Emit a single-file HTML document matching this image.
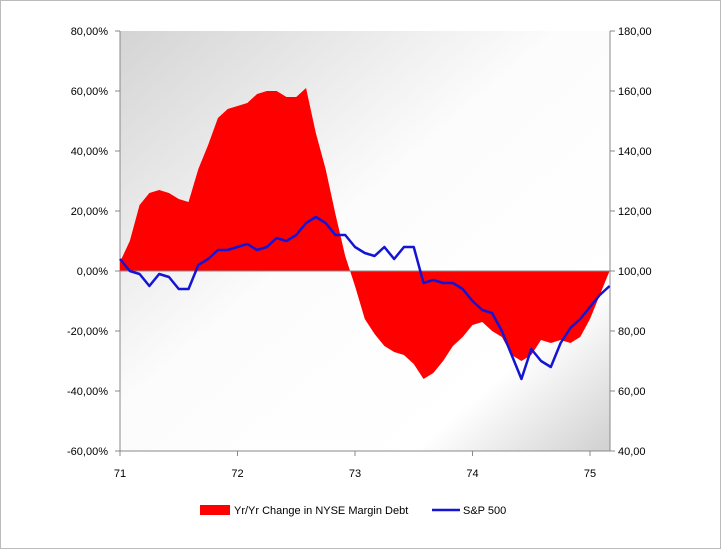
<!DOCTYPE html>
<html><head><meta charset="utf-8"><style>
body{margin:0;background:#fff;font-family:"Liberation Sans",sans-serif;}
svg text{font-family:"Liberation Sans",sans-serif;font-size:11px;fill:#000;}
</style></head><body>
<svg width="721" height="549">
<defs>
<linearGradient id="bg" x1="0" y1="0" x2="1" y2="1">
<stop offset="0" stop-color="#d4d4d4"/><stop offset="0.45" stop-color="#fcfcfc"/><stop offset="0.8" stop-color="#ffffff"/><stop offset="1" stop-color="#d0d0d0"/>
</linearGradient>
</defs>
<rect x="0.5" y="0.5" width="720" height="548" fill="#fff" stroke="#bbb"/>
<rect x="120" y="31" width="490" height="420" fill="url(#bg)"/>
<g id="axes"></g>
<path id="area" fill="#ff0000"/>
<line x1="120" x2="610" y1="271" y2="271" stroke="#888"/>
<polyline id="line" fill="none" stroke="#1414d4" stroke-width="2.5" stroke-linejoin="round"/>
<g>
<rect x="200" y="505" width="30" height="10" fill="#ff0000"/>
<text x="234" y="514">Yr/Yr Change in NYSE Margin Debt</text>
<line x1="432" x2="460" y1="510" y2="510" stroke="#1414d4" stroke-width="2.5"/>
<text x="463" y="514">S&amp;P 500</text>
</g>
</svg>
<script>
const marginDebt=[3,10,22,26,27,26,24,23,34,42,51,54,55,56,59,60,60,58,58,61,46,34,19,5,-5,-16,-21,-25,-27,-28,-31,-36,-34,-30,-25,-22,-18,-17,-20,-22,-28,-30,-28,-23,-24,-23,-24,-22,-16,-8,0];
const sp500=[104,100,99,95,99,98,94,94,102,104,107,107,108,109,107,108,111,110,112,116,118,116,112,112,108,106,105,108,104,108,108,96,97,96,96,94,90,87,86,80,72,64,74,70,68,76,81,84,88,92,95];
const leftTicks=["-60,00%","-40,00%","-20,00%","0,00%","20,00%","40,00%","60,00%","80,00%"];
const leftVals=[-60,-40,-20,0,20,40,60,80];
const rightTicks=["40,00","60,00","80,00","100,00","120,00","140,00","160,00","180,00"];
const rightVals=[40,60,80,100,120,140,160,180];
const years=["71","72","73","74","75"];
const ns="http://www.w3.org/2000/svg";
const xM=i=>120+i*117.5/12;
const yL=v=>271-v*3;
const yR=v=>271-(v-100)*3;
const ax=document.getElementById('axes');
function mk(t,a){const e=document.createElementNS(ns,t);for(const k in a)e.setAttribute(k,a[k]);ax.appendChild(e);return e;}
let l=mk('line',{x1:120,x2:120,y1:31,y2:451,stroke:'#888'});


l=mk('line',{x1:610,x2:610,y1:31,y2:451,stroke:'#888'});


l=mk('line',{x1:120,x2:610,y1:451,y2:451,stroke:'#888'});


leftVals.forEach((v,i)=>{
 mk('line',{x1:115,x2:120,y1:yL(v),y2:yL(v),stroke:'#888'});
 const t=mk('text',{x:108,y:yL(v)+4,'text-anchor':'end'});t.textContent=leftTicks[i];
 
 
});
rightVals.forEach((v,i)=>{
 mk('line',{x1:610,x2:615,y1:yR(v),y2:yR(v),stroke:'#888'});
 const t=mk('text',{x:618,y:yR(v)+4});t.textContent=rightTicks[i];
 
 
});
years.forEach((y,i)=>{
 const x=xM(i*12);
 mk('line',{x1:x,x2:x,y1:451,y2:456,stroke:'#888'});
 const t=mk('text',{x:x,y:477,'text-anchor':'middle'});t.textContent=y;
 
 
});
let d='M'+xM(0)+','+yL(0);
marginDebt.forEach((v,i)=>{d+=' L'+xM(i)+','+yL(v);});
d+=' L'+xM(marginDebt.length-1)+','+yL(0)+' Z';
document.getElementById('area').setAttribute('d',d);
document.getElementById('line').setAttribute('points',sp500.map((v,i)=>xM(i)+','+yR(v)).join(' '));
</script>
</body></html>
